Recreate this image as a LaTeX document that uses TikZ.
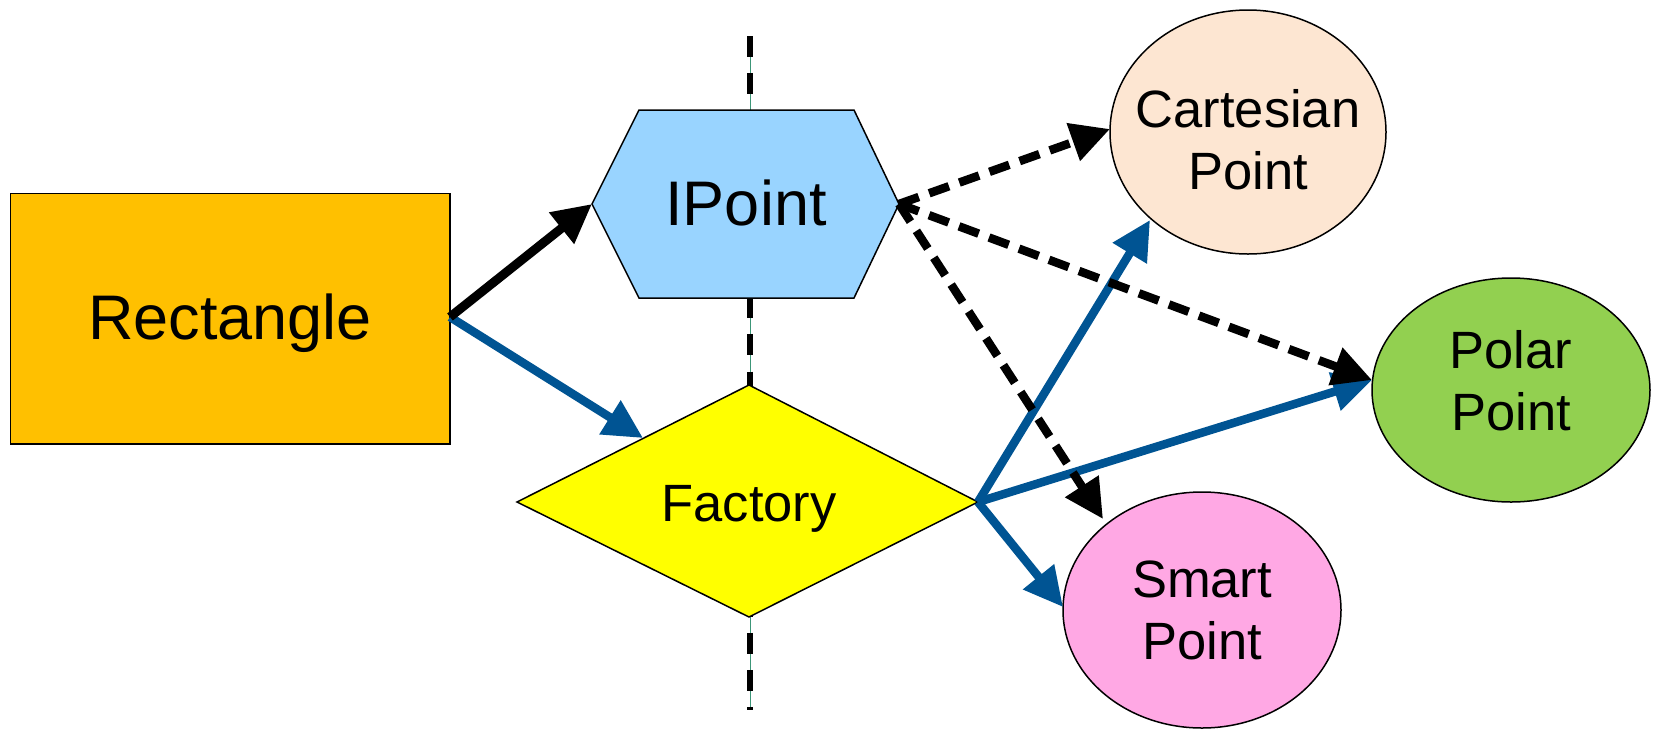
\documentclass[tikz,border=0pt]{standalone}
\usepackage{fontspec}
\setmainfont{Liberation Sans}
\usetikzlibrary{arrows.meta}
\definecolor{rectfill}{RGB}{255,192,0}
\definecolor{hexfill}{RGB}{153,212,255}
\definecolor{diafill}{RGB}{255,255,0}
\definecolor{cartfill}{RGB}{253,230,210}
\definecolor{polarfill}{RGB}{146,208,80}
\definecolor{smartfill}{RGB}{255,168,228}
\definecolor{linkblue}{RGB}{0,84,147}
\definecolor{axisteal}{RGB}{60,150,120}
\tikzset{
  shapeline/.style={draw=black, line width=1.5pt},
  bigtext/.style={font=\fontsize{63}{72}\selectfont, inner sep=0pt},
  midtext/.style={font=\fontsize{52.5}{62}\selectfont, align=center, inner sep=0pt},
  solidarrow/.style={draw=black, line width=9pt, -{Triangle[length=39pt,width=38pt]}},
  dasharrow/.style={draw=black, line width=8.5pt, dash pattern=on 21pt off 11pt, -{Triangle[length=39pt,width=38pt]}},
  bluearrow/.style={draw=linkblue, line width=8.5pt, -{Triangle[length=39pt,width=38pt]}},
}
\begin{document}
\begin{tikzpicture}[x=1pt,y=-1pt]
\useasboundingbox (0,0) rectangle (1658,732);
% vertical axis
\coordinate (axtop) at (750,36);
\coordinate (axbot) at (750,710);
\draw[axisteal, line width=1pt] (axtop) -- (axbot);
\draw[black, line width=5.5pt, dash pattern=on 21pt off 16.3pt] (axtop) -- (axbot);
% shapes
\draw[shapeline, fill=rectfill] (10.6,193.5) rectangle (450,444);
\node[bigtext] (rect) at (230,323) {Rectangle};
\draw[shapeline, fill=hexfill] (592,204) -- (639,110) -- (854,110) -- (899,204) -- (854,298) -- (639,298) -- cycle;
\node[bigtext] (ipoint) at (746,203) {IPoint};
\draw[shapeline, fill=diafill] (749,385) -- (978,502) -- (749,617) -- (517,502) -- cycle;
\node[midtext] (factory) at (749,509) {Factory};
\draw[shapeline, fill=cartfill] (1248,132) ellipse [x radius=138, y radius=122];
\node[midtext] (cart) at (1248,140) {Cartesian\\Point};
\draw[shapeline, fill=polarfill] (1511,390) ellipse [x radius=139, y radius=112];
\node[midtext] (polar) at (1511,381) {Polar\\Point};
\draw[shapeline, fill=smartfill] (1202,610) ellipse [x radius=139, y radius=118];
\node[midtext] (smart) at (1202,610) {Smart\\Point};
% connection points
\coordinate (rectE) at (450,317);
\coordinate (hexW) at (592,204);
\coordinate (hexE) at (899,204);
\coordinate (diaNW) at (643,438);
\coordinate (diaE) at (978,502);
\coordinate (cartW) at (1110,129);
\coordinate (cartSW) at (1150,220);
\coordinate (polarW) at (1372,380);
\coordinate (smartN) at (1103,519);
\coordinate (smartW) at (1063,607);
% connectors
\draw[bluearrow] (rectE) -- (diaNW);
\draw[bluearrow] (diaE) -- (cartSW);
\draw[bluearrow] (diaE) -- (polarW);
\draw[bluearrow] (diaE) -- (smartW);
\draw[solidarrow] (rectE) -- (hexW);
\draw[dasharrow] (hexE) -- (cartW);
\draw[dasharrow] (hexE) -- (polarW);
\draw[dasharrow] (hexE) -- (smartN);
\end{tikzpicture}
\end{document}
